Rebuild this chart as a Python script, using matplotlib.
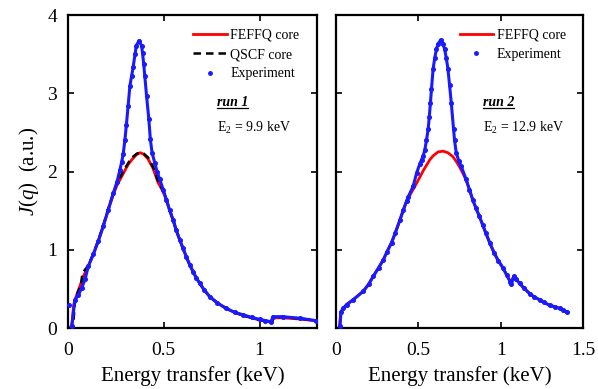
import matplotlib
matplotlib.use("Agg")
import matplotlib.pyplot as plt
from matplotlib.lines import Line2D

plt.rcParams['font.family'] = ['Liberation Serif', 'DejaVu Serif']
plt.rcParams['mathtext.fontset'] = 'custom'
plt.rcParams['mathtext.rm'] = 'Liberation Serif'
plt.rcParams['mathtext.it'] = 'Liberation Serif:italic'

# ---- run 1 (left panel) ----
theo1_x = [0.0, 0.012, 0.02, 0.03, 0.042, 0.06, 0.08, 0.106, 0.132, 0.158, 0.184, 0.21,
           0.236, 0.255, 0.27, 0.29, 0.305, 0.32, 0.34, 0.36, 0.378, 0.395, 0.418, 0.444,
           0.47, 0.497, 0.514, 0.53, 0.549, 0.565, 0.583, 0.60, 0.618, 0.635, 0.653, 0.67,
           0.688, 0.71, 0.74, 0.78, 0.826, 0.87, 0.913, 0.96, 1.0, 1.03, 1.065, 1.072,
           1.12, 1.21, 1.3]
theo1_y = [0.0, 0.0, 0.05, 0.3, 0.40, 0.52, 0.66, 0.79, 0.94, 1.11, 1.30, 1.51,
           1.70, 1.82, 1.89, 1.98, 2.05, 2.11, 2.17, 2.22, 2.24, 2.22, 2.16, 2.04,
           1.86, 1.74, 1.63, 1.51, 1.38, 1.25, 1.13, 1.02, 0.91, 0.81, 0.72, 0.64,
           0.57, 0.49, 0.40, 0.32, 0.25, 0.20, 0.16, 0.13, 0.10, 0.09, 0.07, 0.13,
           0.13, 0.115, 0.09]

qscf1_x = [0.0, 0.02, 0.028, 0.035, 0.05, 0.068, 0.075, 0.106, 0.132, 0.158, 0.184, 0.21,
           0.236, 0.255, 0.27, 0.29, 0.305, 0.32, 0.34, 0.36, 0.378, 0.395, 0.418, 0.444,
           0.47, 0.497, 0.514, 0.53, 0.549, 0.565, 0.583, 0.60, 0.618, 0.635, 0.653, 0.67,
           0.688, 0.71, 0.74, 0.78, 0.826, 0.87, 0.913, 0.96, 1.0, 1.03, 1.065, 1.072,
           1.12, 1.21, 1.3]
qscf1_y = [0.0, 0.0, 0.05, 0.3, 0.45, 0.55, 0.70, 0.80, 0.95, 1.12, 1.31, 1.52,
           1.72, 1.85, 1.92, 2.01, 2.07, 2.13, 2.19, 2.23, 2.24, 2.23, 2.18, 2.06,
           1.88, 1.75, 1.64, 1.51, 1.38, 1.25, 1.13, 1.02, 0.91, 0.81, 0.72, 0.64,
           0.57, 0.49, 0.40, 0.32, 0.25, 0.20, 0.16, 0.13, 0.10, 0.09, 0.075, 0.14,
           0.14, 0.12, 0.095]

exp1_x = [0.02, 0.036, 0.054, 0.071, 0.089, 0.106, 0.132, 0.158, 0.184, 0.21, 0.236,
          0.255, 0.271, 0.28, 0.288, 0.297, 0.305, 0.314, 0.323, 0.332, 0.34, 0.35,
          0.357, 0.37, 0.384, 0.389, 0.395, 0.401, 0.41, 0.422, 0.43, 0.439, 0.453,
          0.465, 0.479, 0.497, 0.514, 0.53, 0.549, 0.565, 0.583, 0.60, 0.618, 0.635,
          0.653, 0.67, 0.688, 0.71, 0.74, 0.78, 0.826, 0.87, 0.913, 0.96, 1.0, 1.03,
          1.06, 1.07, 1.12, 1.21, 1.295]
exp1_y = [0.02, 0.36, 0.42, 0.51, 0.62, 0.79, 0.94, 1.11, 1.30, 1.51, 1.72,
          1.86, 2.02, 2.12, 2.22, 2.40, 2.60, 2.84, 3.09, 3.22, 3.33, 3.50,
          3.61, 3.67, 3.61, 3.52, 3.38, 3.22, 2.97, 2.67, 2.41, 2.24, 2.11,
          2.00, 1.90, 1.77, 1.64, 1.51, 1.38, 1.25, 1.13, 1.02, 0.91, 0.81,
          0.72, 0.64, 0.57, 0.49, 0.40, 0.32, 0.25, 0.20, 0.17, 0.135, 0.11, 0.095,
          0.08, 0.145, 0.145, 0.125, 0.094]
exp1_stray_x = [0.005]
exp1_stray_y = [0.29]

# ---- run 2 (right panel) ----
theo2_x = [0.0, 0.022, 0.03, 0.046, 0.066, 0.105, 0.167, 0.20, 0.227, 0.26, 0.288,
           0.31, 0.338, 0.36, 0.389, 0.41, 0.429, 0.45, 0.469, 0.49, 0.51, 0.53, 0.55,
           0.57, 0.59, 0.62, 0.65, 0.68, 0.71, 0.73, 0.75, 0.77, 0.79, 0.81, 0.83,
           0.85, 0.87, 0.89, 0.91, 0.935, 0.96, 0.985, 1.013, 1.035, 1.058, 1.065,
           1.078, 1.09, 1.114, 1.14, 1.175, 1.20, 1.236, 1.26, 1.296, 1.33, 1.357,
           1.38, 1.40]
theo2_y = [0.0, 0.0, 0.2, 0.25, 0.30, 0.36, 0.47, 0.56, 0.66, 0.77, 0.87,
           0.97, 1.09, 1.21, 1.38, 1.51, 1.62, 1.70, 1.77, 1.85, 1.93, 2.01, 2.08,
           2.15, 2.20, 2.25, 2.26, 2.24, 2.19, 2.13, 2.06, 1.98, 1.89, 1.77, 1.64,
           1.53, 1.43, 1.32, 1.21, 1.08, 0.96, 0.86, 0.77, 0.68, 0.59, 0.60,
           0.66, 0.63, 0.57, 0.51, 0.44, 0.40, 0.36, 0.33, 0.29, 0.27, 0.25,
           0.23, 0.20]

exp2_x = [0.026, 0.032, 0.046, 0.066, 0.105, 0.167, 0.20, 0.227, 0.26, 0.288, 0.31,
          0.338, 0.36, 0.389, 0.41, 0.429, 0.44, 0.469, 0.49, 0.51, 0.52, 0.53, 0.54,
          0.55, 0.56, 0.567, 0.574, 0.58, 0.59, 0.60, 0.61, 0.62, 0.635, 0.65, 0.66,
          0.67, 0.68, 0.69, 0.70, 0.714, 0.72, 0.73, 0.745, 0.76, 0.79, 0.81, 0.83,
          0.85, 0.87, 0.89, 0.91, 0.935, 0.96, 0.985, 1.013, 1.035, 1.058, 1.065,
          1.078, 1.09, 1.114, 1.14, 1.175, 1.20, 1.236, 1.26, 1.296, 1.33, 1.357,
          1.38, 1.40]
exp2_y = [0.02, 0.21, 0.25, 0.30, 0.36, 0.47, 0.56, 0.66, 0.77, 0.87, 0.97,
          1.09, 1.21, 1.38, 1.51, 1.62, 1.68, 1.81, 1.98, 2.10, 2.15, 2.20, 2.28,
          2.40, 2.54, 2.70, 2.88, 3.05, 3.31, 3.45, 3.56, 3.63, 3.68, 3.63, 3.56,
          3.45, 3.31, 3.10, 2.88, 2.54, 2.40, 2.24, 2.14, 2.07, 1.90, 1.77, 1.64,
          1.53, 1.43, 1.32, 1.21, 1.08, 0.96, 0.86, 0.77, 0.68, 0.59, 0.56,
          0.66, 0.63, 0.57, 0.51, 0.44, 0.40, 0.36, 0.33, 0.29, 0.27, 0.25,
          0.23, 0.20]

RED = '#ff0000'
BLUE = '#1a1aff'

fig = plt.figure(figsize=(5.98, 3.89), dpi=100)
ax1 = fig.add_axes([0.1137, 0.1568, 0.4164, 0.8046])
ax2 = fig.add_axes([0.5614, 0.1568, 0.4140, 0.8046])


def style_axes(ax, xmax, xticks, show_ylabels):
    ax.set_xlim(0, xmax)
    ax.set_ylim(0, 4)
    ax.set_xticks(xticks)
    ax.set_xticklabels([f'{t:g}' for t in xticks])
    ax.set_yticks([0, 1, 2, 3, 4])
    ax.tick_params(direction='in', top=True, right=True, length=4, width=1.2,
                   labelsize=14, pad=8)
    ax.tick_params(axis='x', pad=10)
    if not show_ylabels:
        ax.tick_params(labelleft=False)
    for s in ax.spines.values():
        s.set_linewidth(1.6)
    ax.set_xlabel('Energy transfer (keV)', fontsize=15, labelpad=5)


def run_label(ax, x, y, text):
    t = ax.text(x, y, text, transform=ax.transAxes, fontsize=10,
                fontweight='bold', fontstyle='italic', va='center', ha='left')
    fig.canvas.draw()
    bb = t.get_window_extent().transformed(ax.transAxes.inverted())
    ax.plot([bb.x0, bb.x1], [bb.y0 + 0.004, bb.y0 + 0.004], transform=ax.transAxes,
            color='black', lw=0.9, clip_on=False)


def add_legend(ax, handles, labels):
    ax.legend(handles, labels, loc='upper right', frameon=False, fontsize=10,
              handlelength=2.4, handletextpad=0.25, labelspacing=0.45,
              borderaxespad=0.6, bbox_to_anchor=(0.985, 1.0))


# left panel
ax1.plot(theo1_x, theo1_y, color=RED, lw=2.0, zorder=2)
ax1.plot(qscf1_x, qscf1_y, color='black', lw=1.8, ls=(0, (3, 2)), zorder=3)
ax1.plot(exp1_x, exp1_y, color=BLUE, lw=2.2, marker='o', ms=2.6, zorder=4)
ax1.plot(exp1_stray_x, exp1_stray_y, ls='none', marker='o', ms=2.6, color=BLUE,
         zorder=4, clip_on=False)
style_axes(ax1, 1.3, [0, 0.5, 1], True)
ax1.set_ylabel('$J(q)$  (a.u.)', fontsize=15, labelpad=4)
h1 = [Line2D([], [], color=RED, lw=2.0),
      Line2D([], [], color='black', lw=1.8, ls=(0, (3, 2))),
      Line2D([], [], color=BLUE, ls='none', marker='o', ms=2.5)]
add_legend(ax1, h1, ['FEFFQ core', 'QSCF core', 'Experiment'])
run_label(ax1, 0.598, 0.719, 'run 1')
ax1.text(0.598, 0.639, 'E$_2$ = 9.9 keV', transform=ax1.transAxes, fontsize=10,
         va='center', ha='left')

# right panel
ax2.plot(theo2_x, theo2_y, color=RED, lw=2.0, zorder=2)
ax2.plot(exp2_x, exp2_y, color=BLUE, lw=2.2, marker='o', ms=2.6, zorder=4)
style_axes(ax2, 1.5, [0, 0.5, 1, 1.5], False)
h2 = [Line2D([], [], color=RED, lw=2.0),
      Line2D([], [], color=BLUE, ls='none', marker='o', ms=2.5)]
add_legend(ax2, h2, ['FEFFQ core', 'Experiment'])
run_label(ax2, 0.595, 0.719, 'run 2')
ax2.text(0.595, 0.639, 'E$_2$ = 12.9 keV', transform=ax2.transAxes, fontsize=10,
         va='center', ha='left')

fig.savefig('out.png', dpi=100)
